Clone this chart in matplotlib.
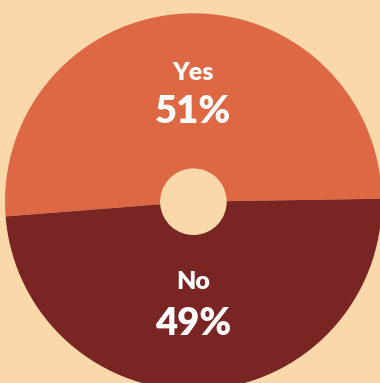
import matplotlib
matplotlib.use("Agg")
import matplotlib.pyplot as plt

# Survey answers and their shares (percent)
answers = ["Yes", "No"]
shares = [51, 49]
share_labels = ["51%", "49%"]

colors = ["#DE6844", "#782523"]
background = "#FBD8A9"

W, H = 380, 383
fig = plt.figure(figsize=(W / 100, H / 100), dpi=100, facecolor=background)
ax = fig.add_axes([0, 0, 1, 1])
ax.set_facecolor(background)

cx, cy = 193.4, H - 201.7
radius = 188.4
hole = 33.3

ax.pie(shares, colors=colors, startangle=0.9, counterclock=True,
       center=(cx, cy), radius=radius, frame=True,
       wedgeprops=dict(width=radius - hole, linewidth=0))

ax.set_xlim(0, W)
ax.set_ylim(0, H)
ax.set_aspect("equal")
ax.axis("off")

font = dict(family=["Lato", "DejaVu Sans"], weight="heavy", color="white",
            ha="center", va="baseline")
# name and percentage, baselines in pixel rows from the top
name_base = [80.3, 288.7]
pct_base = [123.3, 334.7]
for name, pct, nb, pb in zip(answers, share_labels, name_base, pct_base):
    ax.text(cx, H - nb, name, fontsize=18, **font)
    ax.text(cx, H - pb, pct, fontsize=27.5, **font)

fig.savefig("out.png", dpi=100, facecolor=background)
